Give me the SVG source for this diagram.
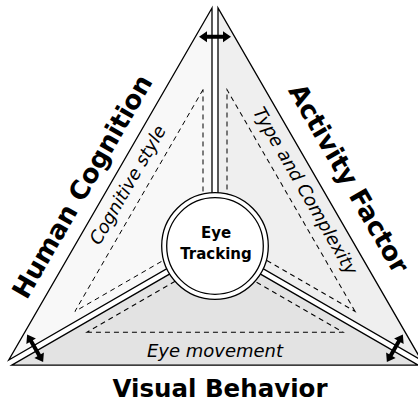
<svg xmlns="http://www.w3.org/2000/svg" width="418" height="412" viewBox="0 0 418 412">
<style>
.sec{stroke:#000;stroke-width:1.3;stroke-linejoin:miter}
.l{fill:#f8f8f8}.r{fill:#efefef}.b{fill:#e3e3e3}
.dash{fill:none;stroke:#000;stroke-width:1;stroke-dasharray:5,4}
.big{font-family:"DejaVu Sans",Verdana,sans-serif;font-weight:bold;font-size:26px;fill:#000}
.it{font-family:"DejaVu Sans",Verdana,sans-serif;font-style:italic;font-size:18px;fill:#000}
.ctr{font-family:"DejaVu Sans",Verdana,sans-serif;font-weight:bold;font-size:15px;fill:#000;text-anchor:middle}
.arr{fill:#000}
</style>
<defs>
<polygon id="sector" points="0,-234.67 -203.23,117.33 0,0"/>
<polygon id="dtri" points="-9,-153.07 -137.06,68.74 -9,-5.2"/>
<polygon id="arrow" points="-16,0 -8,-5.5 -8,-2 8,-2 8,-5.5 16,0 8,5.5 8,2 -8,2 -8,5.5"/>
</defs>
<g transform="translate(215,244.4)">
<g id="human-cognition" transform="translate(-3,-1.732)">
<use href="#sector" class="sec l"/>
<use href="#dtri" class="dash"/>
</g>
<g id="activity-factor" transform="rotate(120) translate(-3,-1.732)">
<use href="#sector" class="sec r"/>
<use href="#dtri" class="dash"/>
</g>
<g id="visual-behavior" transform="rotate(240) translate(-3,-1.732)">
<use href="#sector" class="sec b"/>
<use href="#dtri" class="dash"/>
</g>
<g id="connectors">
<use href="#arrow" class="arr" transform="translate(0,-207.7)"/>
<use href="#arrow" class="arr" transform="rotate(120) translate(0,-207.7)"/>
<use href="#arrow" class="arr" transform="rotate(240) translate(0,-207.7)"/>
</g>
</g>
<g id="eye-tracking">
<circle cx="215" cy="246" r="53.3" fill="#fff" stroke="#000" stroke-width="1.3"/>
<circle cx="215" cy="246" r="48.3" fill="#fff" stroke="#000" stroke-width="1.3"/>
<text class="ctr" x="216" y="238">Eye</text>
<text class="ctr" x="216" y="259">Tracking</text>
</g>
<g id="labels">
<text class="big" text-anchor="middle" transform="translate(90,191) rotate(-60)">Human Cognition</text>
<text class="big" text-anchor="middle" transform="translate(341,183) rotate(60)">Activity Factor</text>
<text class="big" text-anchor="middle" x="220" y="397" style="font-size:24.5px">Visual Behavior</text>
<text class="it" text-anchor="middle" transform="translate(133,188) rotate(-60)">Cognitive style</text>
<text class="it" text-anchor="middle" transform="translate(300,194) rotate(60)">Type and Complexity</text>
<text class="it" text-anchor="middle" x="215" y="357">Eye movement</text>
</g>
</svg>
